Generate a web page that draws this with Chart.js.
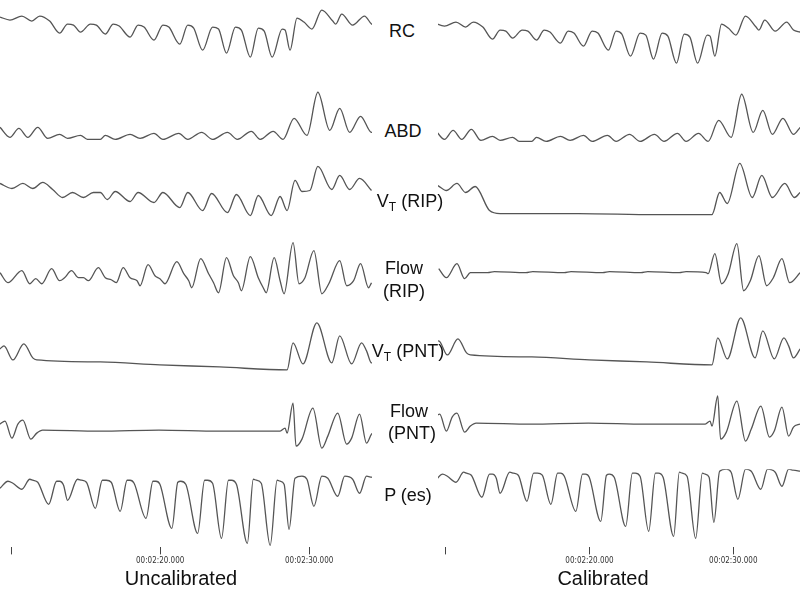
<!DOCTYPE html>
<html>
<head>
<meta charset="utf-8">
<script src="https://cdn.jsdelivr.net/npm/chart.js@4"></script>
<style>
  html,body{margin:0;padding:0;background:#fff;}
  #wrap{position:relative;width:800px;height:590px;background:#fff;overflow:hidden;font-family:"Liberation Sans",Arial,sans-serif;color:#111;}
  canvas{position:absolute;top:0;}
  .lab{position:absolute;transform:translate(-50%,-50%);font-size:18px;white-space:nowrap;line-height:1;}
  .lab sub{font-size:12px;vertical-align:-4px;line-height:0;}
  .cap{position:absolute;transform:translate(-50%,-50%);font-size:20px;white-space:nowrap;line-height:1;}
</style>
</head>
<body>
<div id="wrap">
  <canvas id="left" width="372" height="568" style="left:0px;"></canvas>
  <canvas id="right" width="362" height="568" style="left:438px;"></canvas>
  <div class="lab" style="left:402px;top:31px;">RC</div>
  <div class="lab" style="left:403px;top:131px;">ABD</div>
  <div class="lab" style="left:410px;top:201px;">V<sub>T</sub> (RIP)</div>
  <div class="lab" style="left:404px;top:268px;">Flow</div>
  <div class="lab" style="left:404px;top:291px;">(RIP)</div>
  <div class="lab" style="left:408px;top:351px;">V<sub>T</sub> (PNT)</div>
  <div class="lab" style="left:409px;top:411px;">Flow</div>
  <div class="lab" style="left:412px;top:433px;">(PNT)</div>
  <div class="lab" style="left:408px;top:495px;">P (es)</div>
  <div class="cap" style="left:181px;top:578px;">Uncalibrated</div>
  <div class="cap" style="left:603px;top:578px;">Calibrated</div>
</div>
<script>
// Recording: sample index at 15 Hz, starting at 00:02:09.250
const T0 = 129.25;
const RATE = 15;
const TICK_TIMES = [130, 140, 150];
const TICK_LABELED = [false, true, true];

// RC (rib cage)
const rcS = [0,10,22,32,40,50,60,68,74,81,91,97,106,114,120,131,139,145,155,164,170,181,189,195,204,214,220,228,237,243,252,260,266,274,284,287,292,299,306,314,324,335,338,344,355,367,374,381];
const rcV = [1,-2,2,-3,2,-3,-15,-6,-7,-14,-6,-7,-16,-6,-8,-19,-7,-9,-22,-7,-9,-26,-7,-10,-32,-9,-11,-35,-9,-12,-39,-10,-13,-39,-11,-12,-32,0,-4,-11,8,-3,-6,4,-7,2,-6,-8];

// ABD (abdomen)
const abdS = [0,10,19,28,38,48,60,68,81,88,101,106,116,131,141,155,164,180,189,203,214,229,239,253,262,275,285,296,309,320,332,342,352,363,374,381];
const abdV = [12,2,11,2,12,1,5,1,4,0,0,4,0,5,1,6,0,6,0,7,0,7,0,8,0,8,0,21,4,47,9,31,7,23,7,14];

// VT (RIP), uncalibrated
const vtRipUncS = [0,12,23,33,43,53,63,73,84,94,101,108,116,131,139,155,164,181,189,204,213,229,238,252,260,273,282,289,297,304,312,320,334,342,352,362,374];
const vtRipUncV = [0,-5,0,-5,1,-6,-14,-9,-14,-9,-9,-16,-8,-18,-9,-19,-9,-24,-9,-27,-10,-29,-11,-32,-12,-32,-13,-27,3,-8,-7,17,-6,8,-6,5,-7];

// Flow (RIP), uncalibrated
const flowRipUncS = [0,8,22,30,36,42,52,60,65,72,79,84,89,99,106,112,117,124,131,138,141,149,156,161,166,178,185,190,193,202,210,215,220,228,235,240,243,252,260,265,268,276,282,286,295,301,307,316,324,331,342,349,356,363,371,374];
const flowRipUncV = [0,-10,2,-11,-6,-11,4,-8,-5,2,-5,-5,-8,5,-5,-7,-10,5,-5,-8,-13,8,-3,-6,-11,11,-1,-8,-15,14,-1,-10,-20,15,-3,-10,-18,16,-5,-15,-20,15,-8,-21,30,-11,-5,22,-21,-11,12,-13,-8,9,-15,-10];

// VT (RIP), calibrated
const vtRipCalS = [3,12,23,32,42,57,68,150,230,289,297,305,318,331,341,352,365,375,381];
const vtRipCalV = [-2,-7,0,-9,-3,-27,-30,-30,-31,-31,-9,-20,20,-14,8,-14,0,-14,-9];

// Flow (RIP), calibrated
const flowRipCalS = [4,12,23,31,37,55,62,95,102,135,142,175,182,215,222,255,262,283,285,292,299,306,315,322,329,338,346,353,362,370,381];
const flowRipCalV = [4,-5,9,-6,0,0,1,0,1,0,1,0,1,0,1,0,1,0,-1,19,-11,-1,29,-18,-8,17,-13,-5,14,-10,0];

// VT (PNT)
const vtPntS = [0,4,13,24,33,37,101,161,221,289,295,305,319,334,342,354,364,369,374,381];
const vtPntV = [11,14,0,16,2,0,-2,-5,-7,-10,17,-4,37,-3,24,-4,17,9,-3,6];

// Flow (PNT)
const flowPntS = [0,5,12,18,23,31,37,43,100,160,220,282,287,289,295,298,304,315,324,330,340,349,354,362,369,374,381];
const flowPntV = [7,10,-7,7,11,-8,-2,1,0,1,0,0,3,-2,28,-15,-8,23,-17,-5,18,-13,-7,17,-12,-3,0];

// P (es)
const pesS = [0,8,13,22,30,33,38,49,57,60,64,68,78,82,87,96,103,107,112,121,128,131,135,147,154,157,161,173,179,182,187,199,206,209,214,223,230,233,238,249,255,258,263,272,279,282,286,291,297,304,309,316,324,330,340,347,355,362,369,374,381];
const pesV = [-7,0,-2,-8,2,1,-1,-23,0,0,-4,-19,2,1,-1,-27,1,1,-1,-30,1,1,-2,-37,0,0,-3,-47,-1,0,-3,-52,1,1,-2,-57,1,1,-3,-62,2,1,-2,-64,1,0,-3,-48,3,5,2,-25,5,3,-15,5,2,-12,5,4,3];

function pts(s, v) { return s.map((x, i) => ({x: x, y: v[i]})); }

function fmtTime(t) {
  const tt = Math.round(t * 1000) / 1000;
  const h = Math.floor(tt / 3600);
  const m = Math.floor((tt - h * 3600) / 60);
  const sec = tt - h * 3600 - m * 60;
  const p2 = n => String(n).padStart(2, '0');
  const sInt = Math.floor(sec);
  const ms = Math.round((sec - sInt) * 1000);
  return p2(h) + ':' + p2(m) + ':' + p2(sInt) + '.' + String(ms).padStart(3, '0');
}

function makePanel(id, rows, xMin, xMax) {
  const datasets = rows.map((r, i) => ({
    data: pts(r.s, r.v),
    yAxisID: 'y' + i,
    borderColor: '#555555',
    borderWidth: 1.3,
    pointRadius: 0,
    cubicInterpolationMode: 'monotone',
    fill: false
  }));
  const scales = {
    x: {
      type: 'linear', min: xMin, max: xMax, position: 'bottom',
      border: {display: false},
      grid: {drawOnChartArea: false, drawTicks: true, tickLength: 7, color: '#444', lineWidth: 1},
      afterBuildTicks: (sc) => { sc.ticks = TICK_TIMES.map(t => ({value: (t - T0) * RATE})); },
      ticks: {
        padding: 2, maxRotation: 0, autoSkip: false, color: '#333',
        font: {size: 8, family: '"Liberation Sans Narrow","DejaVu Sans Condensed","Liberation Sans",Arial'},
        callback: (val) => {
          const t = T0 + val / RATE;
          const k = TICK_TIMES.findIndex(tt => Math.abs(tt - t) < 0.01);
          return (k >= 0 && TICK_LABELED[k]) ? fmtTime(t) : '';
        }
      }
    }
  };
  // stacked axes: the last-defined axis is placed at the top, so define bottom row first
  for (let i = rows.length - 1; i >= 0; i--) {
    const r = rows[i];
    scales['y' + i] = {
      type: 'linear', position: 'left', stack: 'rows', stackWeight: 1,
      min: r.min, max: r.max, display: true,
      ticks: {display: false}, grid: {display: false, drawTicks: false}, border: {display: false}
    };
  }
  new Chart(document.getElementById(id), {
    type: 'line',
    data: {datasets},
    options: {
      responsive: false, animation: false, devicePixelRatio: 1,
      layout: {padding: 0, autoPadding: false},
      plugins: {legend: {display: false}, tooltip: {enabled: false}},
      scales
    }
  });
}

makePanel('left', [
  {s: rcS, v: rcV, min: -60, max: 18},
  {s: abdS, v: abdV, min: -17, max: 61},
  {s: vtRipUncS, v: vtRipUncV, min: -51, max: 27},
  {s: flowRipUncS, v: flowRipUncV, min: -40, max: 38},
  {s: vtPntS, v: vtPntV, min: -31, max: 47},
  {s: flowPntS, v: flowPntV, min: -38, max: 40},
  {s: pesS, v: pesV, min: -66, max: 12}
], 0, 374.5);

makePanel('right', [
  {s: rcS, v: rcV, min: -54, max: 24},
  {s: abdS, v: abdV, min: -15, max: 63},
  {s: vtRipCalS, v: vtRipCalV, min: -51, max: 27},
  {s: flowRipCalS, v: flowRipCalV, min: -40, max: 38},
  {s: vtPntS, v: vtPntV, min: -36, max: 42},
  {s: flowPntS, v: flowPntV, min: -45, max: 33},
  {s: pesS, v: pesV, min: -73, max: 5}
], 3.23, 380.83);
</script>
</body>
</html>
